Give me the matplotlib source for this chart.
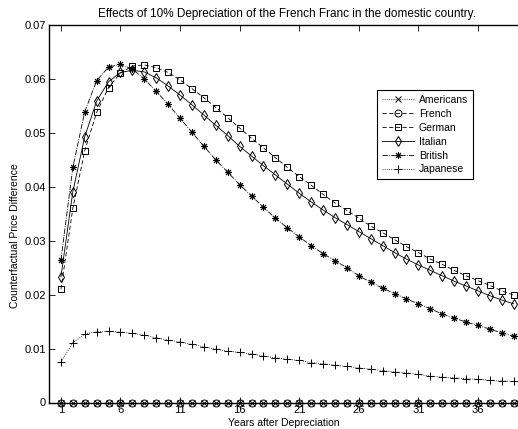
import matplotlib
matplotlib.use("Agg")
import matplotlib.pyplot as plt

plt.rcParams['font.family'] = ['Liberation Sans', 'DejaVu Sans']

years = list(range(1, 40))
americans = [0.0, 0.0, 0.0, 0.0, 0.0, 0.0, 0.0, 0.0, 0.0, 0.0, 0.0, 0.0, 0.0,
             0.0, 0.0, 0.0, 0.0, 0.0, 0.0, 0.0, 0.0, 0.0, 0.0, 0.0, 0.0, 0.0,
             0.0, 0.0, 0.0, 0.0, 0.0, 0.0, 0.0, 0.0, 0.0, 0.0, 0.0, 0.0, 0.0]
french = [0.0, 0.0, 0.0, 0.0, 0.0, 0.0, 0.0, 0.0, 0.0, 0.0, 0.0, 0.0, 0.0,
          0.0, 0.0, 0.0, 0.0, 0.0, 0.0, 0.0, 0.0, 0.0, 0.0, 0.0, 0.0, 0.0,
          0.0, 0.0, 0.0, 0.0, 0.0, 0.0, 0.0, 0.0, 0.0, 0.0, 0.0, 0.0, 0.0]
german = [0.0210, 0.0360, 0.0467, 0.0538, 0.0584, 0.0611, 0.0624, 0.0626, 0.0621,
          0.0612, 0.0598, 0.0582, 0.0565, 0.0547, 0.0528, 0.0509, 0.0490, 0.0472,
          0.0454, 0.0436, 0.0419, 0.0403, 0.0386, 0.0370, 0.0356, 0.0342, 0.0327,
          0.0315, 0.0302, 0.0289, 0.0278, 0.0266, 0.0256, 0.0245, 0.0235, 0.0226,
          0.0217, 0.0207, 0.0199]
italian = [0.0233, 0.0391, 0.0493, 0.0559, 0.0595, 0.0612, 0.0616, 0.0613, 0.0602,
           0.0587, 0.0570, 0.0552, 0.0533, 0.0514, 0.0495, 0.0475, 0.0457, 0.0439,
           0.0422, 0.0405, 0.0388, 0.0372, 0.0357, 0.0343, 0.0330, 0.0317, 0.0304,
           0.0291, 0.0278, 0.0266, 0.0255, 0.0245, 0.0235, 0.0225, 0.0216, 0.0207,
           0.0198, 0.0190, 0.0183]
british = [0.0264, 0.0436, 0.0539, 0.0597, 0.0622, 0.0627, 0.0618, 0.0600, 0.0577,
           0.0553, 0.0527, 0.0501, 0.0475, 0.0450, 0.0427, 0.0404, 0.0383, 0.0362,
           0.0342, 0.0324, 0.0307, 0.0291, 0.0276, 0.0263, 0.0250, 0.0235, 0.0223,
           0.0212, 0.0202, 0.0192, 0.0183, 0.0174, 0.0164, 0.0157, 0.0149, 0.0143,
           0.0136, 0.0129, 0.0123]
japanese = [0.0075, 0.0111, 0.0127, 0.0131, 0.0132, 0.0131, 0.0128, 0.0125, 0.0120,
            0.0116, 0.0112, 0.0108, 0.0103, 0.0099, 0.0095, 0.0093, 0.0090, 0.0086,
            0.0083, 0.0080, 0.0078, 0.0074, 0.0072, 0.0069, 0.0067, 0.0064, 0.0062,
            0.0059, 0.0057, 0.0055, 0.0052, 0.0049, 0.0047, 0.0046, 0.0044, 0.0043,
            0.0041, 0.0040, 0.0039]

xticks = [1, 6, 11, 16, 21, 26, 31, 36]
yticks = [0, 0.01, 0.02, 0.03, 0.04, 0.05, 0.06, 0.07]
ytick_labels = ['0', '0.01', '0.02', '0.03', '0.04', '0.05', '0.06', '0.07']

W, H = 518, 429
fig = plt.figure(figsize=(W / 100, H / 100), dpi=100)
ax = fig.add_axes([49 / W, (H - 402.5) / H, (525.6 - 49) / W, (402.5 - 25) / H])

lw = 0.6
ms = 5
common = dict(color='black', linewidth=lw, markerfacecolor='none',
              markeredgecolor='black', markeredgewidth=0.7, clip_on=False)
ax.plot(years, americans, linestyle=':', marker='x', markersize=ms, label='Americans', **common)
ax.plot(years, french, linestyle=(0, (5, 3)), marker='o', markersize=ms, label='French', **common)
ax.plot(years, german, linestyle=(0, (5, 3)), marker='s', markersize=ms, label='German', **common)
ax.plot(years, italian, linestyle='-', marker='d', markersize=ms + 0.5, label='Italian', **common)
ax.plot(years, british, linestyle='-.', marker=(8, 2, 0), markersize=ms, label='British', **common)
ax.plot(years, japanese, linestyle=':', marker='+', markersize=ms + 1, label='Japanese', **common)

ax.set_xlim(0, 40)
ax.set_ylim(0, 0.07)
ax.set_xticks(xticks)
ax.set_xticklabels([str(t) for t in xticks])
ax.set_yticks(yticks)
ax.set_yticklabels(ytick_labels)
ax.tick_params(direction='in', length=4, width=0.6, labelsize=8, top=True, right=True,
               pad=2, colors='black')
ax.tick_params(axis='x', pad=2)
for s in ax.spines.values():
    s.set_linewidth(1.0)

ax.set_title('Effects of 10% Depreciation of the French Franc in the domestic country.',
             fontsize=8.5, pad=6)
fig.text(284 / W, 1 - 423 / H, 'Years after Depreciation', ha='center', va='center', fontsize=7.5)
fig.text(15 / W, 1 - 236 / H, 'Counterfactual Price Difference', ha='center', va='center',
         rotation=90, fontsize=7.5)

leg = ax.legend(loc='upper left', bbox_to_anchor=(377 / W, 1 - 90 / H),
                bbox_transform=fig.transFigure, fontsize=7.5, frameon=True,
                fancybox=False, edgecolor='black', framealpha=1, borderaxespad=0,
                handlelength=3.1, handletextpad=0.45, labelspacing=0.38, borderpad=0.45)
leg.get_frame().set_linewidth(0.8)

fig.savefig('out.png', dpi=100)
